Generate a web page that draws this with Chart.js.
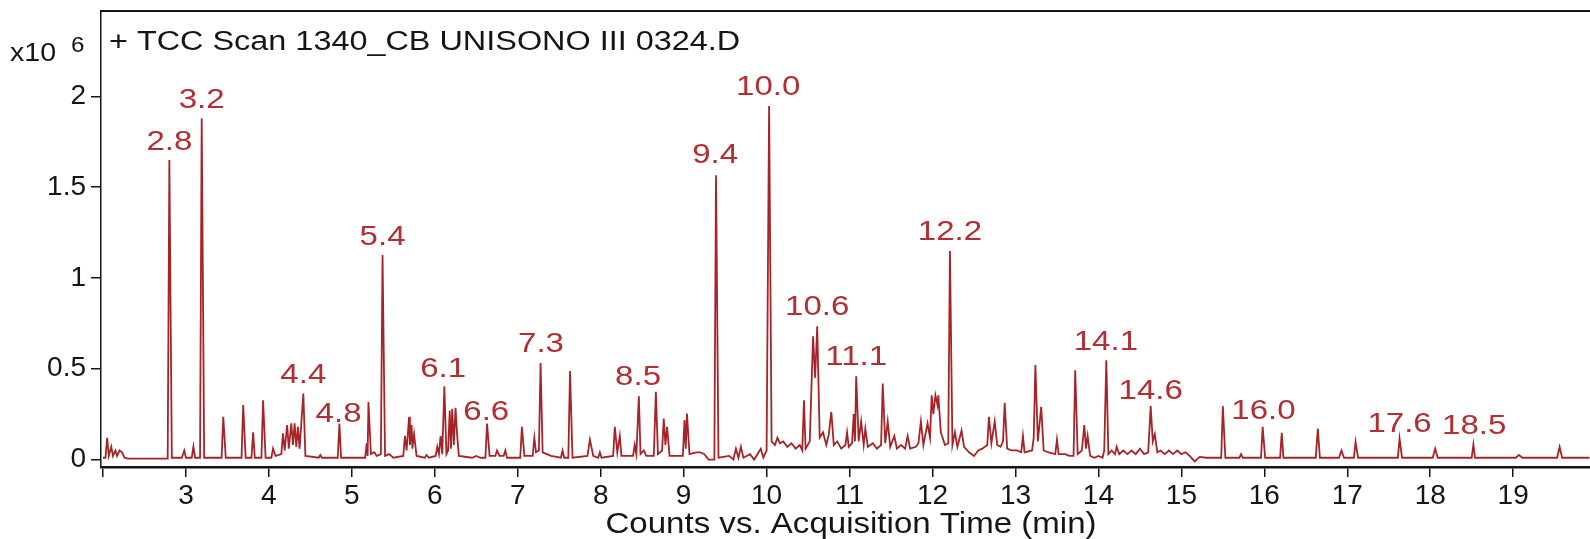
<!DOCTYPE html>
<html>
<head>
<meta charset="utf-8">
<script src="https://cdn.jsdelivr.net/npm/chart.js@4/dist/chart.umd.min.js"></script>
<style>
  html, body { margin: 0; padding: 0; background: #fff; }
  canvas { display: block; }
</style>
</head>
<body>
<canvas id="tccChart" width="1590" height="539"></canvas>
<script>
// acquisition time (min) and counts (x10^6)
const times = [
    2.00, 2.03, 2.05, 2.07, 2.10, 2.12, 2.15, 2.17, 2.20, 2.23, 2.26, 2.30,
    2.78, 2.80, 2.83, 2.95, 2.98, 3.00, 3.07, 3.09, 3.11, 3.17, 3.19, 3.22,
    3.43, 3.45, 3.48, 3.67, 3.69, 3.72, 3.79, 3.81, 3.83, 3.91, 3.93, 3.96,
    4.03, 4.05, 4.08, 4.15, 4.17, 4.19, 4.22, 4.24, 4.27, 4.29, 4.31, 4.33,
    4.35, 4.37, 4.415, 4.44, 4.60, 4.62, 4.64, 4.83, 4.85, 4.87,
    5.16, 5.18, 5.19, 5.20, 5.23, 5.27, 5.30, 5.35, 5.37, 5.40, 5.45, 5.50,
    5.62, 5.64, 5.66, 5.69, 5.70, 5.72, 5.73, 5.75, 5.78, 5.88, 5.90, 5.93,
    6.01, 6.03, 6.05, 6.07, 6.09, 6.115, 6.14, 6.16, 6.18, 6.195, 6.21, 6.23,
    6.25, 6.27, 6.29, 6.45, 6.50, 6.55, 6.61, 6.63, 6.66, 6.73, 6.75, 6.78,
    6.83, 6.85, 6.87, 7.03, 7.05, 7.08, 7.18, 7.20, 7.22, 7.255, 7.275, 7.30,
    7.35, 7.40, 7.52, 7.54, 7.56, 7.61, 7.63, 7.66, 7.84, 7.87, 7.91, 7.97,
    7.99, 8.01, 8.15, 8.17, 8.20, 8.23, 8.25, 8.39, 8.41, 8.43, 8.46, 8.48,
    8.52, 8.55, 8.64, 8.665, 8.69, 8.74, 8.76, 8.78, 8.80, 8.83, 8.99, 9.01,
    9.025, 9.04, 9.07, 9.15, 9.20, 9.25, 9.30, 9.37, 9.39, 9.42, 9.55, 9.60,
    9.63, 9.66, 9.69, 9.72, 9.80, 9.85, 9.93, 9.96, 10.00, 10.03, 10.06, 10.10,
    10.13, 10.16, 10.20, 10.25, 10.30, 10.35, 10.40, 10.43, 10.45, 10.47, 10.52, 10.56,
    10.585, 10.61, 10.64, 10.68, 10.72, 10.75, 10.78, 10.81, 10.85, 10.90, 10.95, 10.97,
    10.99, 11.03, 11.05, 11.065, 11.08, 11.11, 11.14, 11.17, 11.19, 11.22, 11.28, 11.33,
    11.38, 11.40, 11.43, 11.46, 11.49, 11.54, 11.57, 11.62, 11.67, 11.70, 11.73, 11.80,
    11.83, 11.86, 11.89, 11.94, 11.97, 11.99, 12.01, 12.035, 12.06, 12.07, 12.10, 12.15,
    12.19, 12.21, 12.24, 12.27, 12.30, 12.35, 12.38, 12.44, 12.50, 12.55, 12.60, 12.66,
    12.68, 12.71, 12.75, 12.78, 12.82, 12.85, 12.87, 12.90, 12.95, 13.02, 13.07, 13.09,
    13.11, 13.20, 13.22, 13.24, 13.27, 13.31, 13.34, 13.40, 13.48, 13.50, 13.52, 13.60,
    13.65, 13.70, 13.72, 13.75, 13.80, 13.83, 13.85, 13.87, 13.90, 13.95, 14.00, 14.05,
    14.07, 14.095, 14.12, 14.16, 14.20, 14.22, 14.25, 14.30, 14.35, 14.40, 14.45, 14.50,
    14.55, 14.60, 14.63, 14.655, 14.68, 14.71, 14.75, 14.80, 14.85, 14.90, 14.95, 15.00,
    15.05, 15.10, 15.16, 15.22, 15.30, 15.40, 15.48, 15.50, 15.53, 15.70, 15.72, 15.74,
    15.96, 15.98, 16.01, 16.19, 16.21, 16.23, 16.62, 16.645, 16.67, 16.90, 16.93, 16.96,
    17.08, 17.10, 17.13, 17.61, 17.63, 17.66, 18.03, 18.06, 18.09, 18.50, 18.52, 18.54,
    19.03, 19.07, 19.11, 19.53, 19.56, 19.59, 19.92
];
const counts = [
    0.01, 0.01, 0.12, 0.02, 0.07, 0.02, 0.05, 0.02, 0.05, 0.04, 0.01, 0.005,
    0.005, 1.649, 0.01, 0.01, 0.05, 0.01, 0.01, 0.07, 0.01, 0.01, 1.879, 0.01,
    0.01, 0.235, 0.01, 0.01, 0.30, 0.01, 0.01, 0.15, 0.01, 0.01, 0.327, 0.01,
    0.01, 0.06, 0.02, 0.03, 0.145, 0.05, 0.19, 0.06, 0.20, 0.08, 0.20, 0.07,
    0.18, 0.06, 0.364, 0.02, 0.01, 0.025, 0.01, 0.01, 0.198, 0.01,
    0.01, 0.09, 0.02, 0.317, 0.03, 0.04, 0.02, 0.03, 1.126, 0.02, 0.03, 0.01,
    0.02, 0.13, 0.05, 0.235, 0.08, 0.19, 0.06, 0.14, 0.02, 0.01, 0.025, 0.01,
    0.02, 0.07, 0.03, 0.13, 0.03, 0.404, 0.03, 0.05, 0.27, 0.06, 0.28, 0.08,
    0.285, 0.13, 0.02, 0.01, 0.02, 0.01, 0.01, 0.198, 0.02, 0.02, 0.05, 0.02,
    0.02, 0.05, 0.01, 0.01, 0.18, 0.02, 0.02, 0.12, 0.04, 0.05, 0.532, 0.04,
    0.03, 0.02, 0.01, 0.05, 0.01, 0.01, 0.488, 0.01, 0.02, 0.11, 0.02, 0.01,
    0.04, 0.01, 0.02, 0.18, 0.04, 0.13, 0.02, 0.02, 0.08, 0.03, 0.349, 0.03,
    0.05, 0.02, 0.02, 0.373, 0.03, 0.05, 0.226, 0.08, 0.18, 0.02, 0.02, 0.217,
    0.06, 0.253, 0.03, 0.04, 0.04, 0.03, 0.0, 0.0, 1.566, 0.01, 0.02, 0.0,
    0.06, 0.01, 0.07, 0.01, 0.03, 0.0, 0.06, 0.01, 0.05, 1.947, 0.10, 0.08,
    0.12, 0.09, 0.10, 0.07, 0.09, 0.06, 0.08, 0.05, 0.327, 0.06, 0.10, 0.679,
    0.45, 0.734, 0.12, 0.15, 0.08, 0.14, 0.262, 0.08, 0.10, 0.06, 0.08, 0.15,
    0.07, 0.09, 0.25, 0.10, 0.459, 0.10, 0.21, 0.08, 0.17, 0.07, 0.09, 0.06,
    0.08, 0.418, 0.09, 0.21, 0.07, 0.13, 0.06, 0.08, 0.06, 0.13, 0.06, 0.07,
    0.09, 0.21, 0.08, 0.20, 0.12, 0.354, 0.25, 0.354, 0.30, 0.354, 0.15, 0.08,
    0.09, 1.149, 0.08, 0.15, 0.07, 0.16, 0.07, 0.04, 0.02, 0.05, 0.06, 0.08,
    0.235, 0.09, 0.21, 0.08, 0.07, 0.10, 0.312, 0.06, 0.05, 0.05, 0.04, 0.13,
    0.04, 0.05, 0.12, 0.52, 0.10, 0.29, 0.05, 0.04, 0.03, 0.11, 0.03, 0.03,
    0.02, 0.02, 0.492, 0.03, 0.05, 0.19, 0.06, 0.13, 0.02, 0.01, 0.02, 0.01,
    0.05, 0.547, 0.03, 0.05, 0.03, 0.07, 0.03, 0.05, 0.03, 0.05, 0.03, 0.06,
    0.03, 0.04, 0.294, 0.10, 0.14, 0.04, 0.05, 0.03, 0.05, 0.03, 0.05, 0.03,
    0.04, 0.02, -0.01, 0.015, 0.01, 0.01, 0.01, 0.294, 0.01, 0.01, 0.03, 0.01,
    0.01, 0.18, 0.01, 0.01, 0.147, 0.01, 0.01, 0.171, 0.01, 0.01, 0.05, 0.01,
    0.01, 0.097, 0.01, 0.01, 0.116, 0.01, 0.01, 0.06, 0.01, 0.01, 0.083, 0.01,
    0.01, 0.025, 0.01, 0.01, 0.07, 0.01, 0.01
];

// labelled peaks: text, retention time, level of the text baseline (x10^6)
const peakLabels = ['2.8', '3.2', '4.4', '4.8', '5.4', '6.1', '6.6', '7.3', '8.5', '9.4',
    '10.0', '10.6', '11.1', '12.2', '14.1', '14.6', '16.0', '17.6', '18.5'];
const peakTimes = [2.80, 3.19, 4.415, 4.84, 5.37, 6.10, 6.62, 7.28, 8.45, 9.38,
    10.02, 10.61, 11.08, 12.21, 14.09, 14.63, 15.99, 17.63, 18.53];
const peakLevels = [1.704, 1.934, 0.419, 0.207, 1.181, 0.455, 0.217, 0.593, 0.409, 1.631,
    2.007, 0.795, 0.520, 1.210, 0.602, 0.332, 0.226, 0.149, 0.143];

const xTicks = [2, 3, 4, 5, 6, 7, 8, 9, 10, 11, 12, 13, 14, 15, 16, 17, 18, 19];
const yTicks = [0, 0.5, 1, 1.5, 2];

const traceColor = 'rgb(166, 36, 40)';
const labelColor = 'rgb(178, 46, 50)';
const inkColor = '#151515';
const fontFamily = '"Liberation Sans", Arial, Helvetica, sans-serif';

// the source picture is a little wider than tall, so text is stretched sideways
function wideText(c, txt, x, y, sx, align) {
    c.save();
    c.translate(x, y);
    c.scale(sx, 1);
    c.textAlign = align;
    c.fillText(txt, 0, 0);
    c.restore();
}

const annotations = {
    id: 'annotations',
    afterDatasetsDraw(chart) {
        const c = chart.ctx;
        const xs = chart.scales.x;
        const ys = chart.scales.y;
        const area = chart.chartArea;
        c.save();

        // top frame line
        c.strokeStyle = inkColor;
        c.lineWidth = 2;
        c.beginPath();
        c.moveTo(area.left, area.top);
        c.lineTo(area.right, area.top);
        c.stroke();

        // peak labels
        c.fillStyle = labelColor;
        c.font = '28px ' + fontFamily;
        c.textBaseline = 'alphabetic';
        peakLabels.forEach((txt, i) => {
            wideText(c, txt, xs.getPixelForValue(peakTimes[i]), ys.getPixelForValue(peakLevels[i]), 1.18, 'center');
        });

        // trace name
        c.fillStyle = inkColor;
        c.font = '27px ' + fontFamily;
        wideText(c, '+ TCC Scan 1340_CB UNISONO III 0324.D', area.left + 8, 50, 1.2, 'left');

        // exponent
        c.font = '26px ' + fontFamily;
        wideText(c, 'x10', 10, 61, 1.1, 'left');
        c.font = '22px ' + fontFamily;
        wideText(c, '6', 71, 52, 1.1, 'left');

        // x axis title
        c.font = '29px ' + fontFamily;
        wideText(c, 'Counts vs. Acquisition Time (min)', 851, 533, 1.14, 'center');
        c.restore();
    }
};

new Chart(document.getElementById('tccChart').getContext('2d'), {
    type: 'line',
    data: {
        datasets: [{
            data: times.map((t, i) => ({ x: t, y: counts[i] })),
            borderColor: traceColor,
            borderWidth: 1.8,
            pointRadius: 0,
            tension: 0,
            fill: false
        }]
    },
    options: {
        responsive: false,
        animation: false,
        layout: { padding: { top: 11, right: 0, bottom: 0, left: 0 } },
        plugins: {
            legend: { display: false },
            tooltip: { enabled: false }
        },
        scales: {
            x: {
                type: 'linear',
                min: 1.976,
                max: 19.926,
                afterBuildTicks: s => { s.ticks = xTicks.map(v => ({ value: v })); },
                afterFit: s => { s.height = 72; s.paddingLeft = 0; s.paddingRight = 0; },
                ticks: {
                    autoSkip: false,
                    maxRotation: 0,
                    padding: 2,
                    color: inkColor,
                    font: { family: fontFamily, size: 28 },
                    callback: v => (v === 2 ? '' : String(v))
                },
                grid: { drawOnChartArea: false, tickLength: 10, color: inkColor, lineWidth: 1.5 },
                border: { color: inkColor, width: 2.5 }
            },
            y: {
                min: -0.041,
                max: 2.47,
                afterBuildTicks: s => { s.ticks = yTicks.map(v => ({ value: v })); },
                afterFit: s => { s.width = 101; s.paddingTop = 0; s.paddingBottom = 0; },
                ticks: {
                    padding: 5,
                    color: inkColor,
                    font: { family: fontFamily, size: 28 },
                    callback: v => String(v)
                },
                grid: { drawOnChartArea: false, tickLength: 10, color: inkColor, lineWidth: 1.5 },
                border: { color: inkColor, width: 1.5 }
            }
        }
    },
    plugins: [annotations]
});
</script>
</body>
</html>
